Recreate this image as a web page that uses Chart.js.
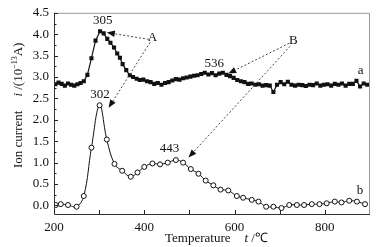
<!DOCTYPE html>
<html>
<head>
<meta charset="utf-8">
<script src="https://cdn.jsdelivr.net/npm/chart.js@4.4.1/dist/chart.umd.min.js"></script>
<style>
html, body { margin: 0; padding: 0; background: #fff; }
</style>
</head>
<body>
<canvas id="ionChart" width="386" height="247"></canvas>
<script>
// curve a (filled squares)
const tempA = [203, 210, 217, 224, 231, 238, 245, 252, 259, 266, 274, 283, 292, 302, 310, 318, 325, 333, 340, 346,
    352, 360, 368, 375, 383, 390, 398, 406, 414, 422, 430, 438, 446, 454, 462, 470, 478, 486, 494, 502,
    510, 518, 526, 534, 542, 550, 558, 566, 574, 582, 590, 598, 606, 614, 622, 630, 638, 646, 654, 662,
    670, 678, 686, 694, 702, 710, 718, 726, 734, 742, 750, 758, 766, 774, 782, 790, 798, 806, 814, 822,
    830, 838, 846, 854, 862, 870, 878, 886, 894];
const currentA = [2.83, 2.87, 2.84, 2.80, 2.85, 2.82, 2.80, 2.83, 2.86, 2.90, 3.05, 3.44, 3.85, 4.07, 4.02, 3.89, 3.80, 3.69, 3.55, 3.45,
    3.30, 3.16, 3.04, 3.00, 2.96, 2.93, 2.94, 2.90, 2.88, 2.84, 2.86, 2.82, 2.86, 2.88, 2.92, 2.95, 2.94, 2.97, 2.99, 3.01,
    3.03, 3.04, 3.07, 3.10, 3.06, 3.09, 3.04, 3.08, 3.10, 3.05, 3.02, 2.98, 2.93, 2.90, 2.88, 2.84, 2.85, 2.82, 2.83, 2.80,
    2.81, 2.80, 2.65, 2.82, 2.88, 2.83, 2.89, 2.82, 2.80, 2.82, 2.81, 2.79, 2.82, 2.81, 2.85, 2.80, 2.82, 2.83, 2.80, 2.84,
    2.82, 2.85, 2.80, 2.84, 2.84, 2.91, 2.78, 2.85, 2.82];

// curve b (open circles)
const tempB = [204, 215, 231, 250, 266, 283, 301, 317, 334, 351, 370, 385, 400, 418, 435, 452, 470, 486, 503, 520,
    536, 553, 569, 586, 605, 619, 638, 653, 670, 686, 704, 721, 738, 754, 771, 788, 804, 822, 837, 854,
    871, 889];
const currentB = [0.01, 0.03, 0.01, -0.03, 0.22, 1.35, 2.34, 1.54, 0.97, 0.81, 0.67, 0.77, 0.90, 0.98, 0.96, 1.00, 1.06, 1.00, 0.85, 0.74,
    0.58, 0.47, 0.37, 0.35, 0.22, 0.18, 0.13, 0.09, -0.03, -0.03, -0.06, 0.01, 0.01, 0.01, 0.03, 0.03, 0.05, 0.09, 0.07, 0.11,
    0.09, 0.03];

const xTicks = [200, 400, 600, 800];
const xMinorTicks = [300, 500, 700];
const yTicks = [0, 0.5, 1.0, 1.5, 2.0, 2.5, 3.0, 3.5, 4.0, 4.5];

// annotation texts and arrows, in data units
const noteLabels = [
    { text: '305', x: 308, y: 4.31 },
    { text: '302', x: 302, y: 2.60 },
    { text: '536', x: 555, y: 3.31 },
    { text: '443', x: 456, y: 1.32 },
    { text: 'A', x: 418, y: 3.91 },
    { text: 'B', x: 730, y: 3.84 },
    { text: 'a', x: 879, y: 3.15 },
    { text: 'b', x: 878, y: 0.34 }
];
const noteArrows = [
    { from: [410, 3.88], to: [317, 4.04] },
    { from: [413, 3.81], to: [321, 2.28] },
    { from: [721, 3.79], to: [586, 3.08] },
    { from: [723, 3.72], to: [498, 1.12] }
];

const FONT = '"Liberation Serif", "Times New Roman", serif';

function toPoints(xs, ys) {
    return xs.map((x, i) => ({ x: x, y: ys[i] }));
}

const decorPlugin = {
    id: 'decor',
    afterDraw(chart) {
        const ctx = chart.ctx;
        const area = chart.chartArea;
        const xs = chart.scales.x;
        const ys = chart.scales.y;
        ctx.save();

        // frame: top/right lighter than the axes
        ctx.lineWidth = 1;
        ctx.strokeStyle = '#999';
        ctx.beginPath();
        ctx.moveTo(area.left, area.top + 0.5);
        ctx.lineTo(area.right - 0.5, area.top + 0.5);
        ctx.lineTo(area.right - 0.5, area.bottom);
        ctx.stroke();
        ctx.strokeStyle = '#333';
        ctx.beginPath();
        ctx.moveTo(area.left + 0.5, area.top);
        ctx.lineTo(area.left + 0.5, area.bottom + 0.5);
        ctx.lineTo(area.right, area.bottom + 0.5);
        ctx.stroke();

        // inward ticks
        ctx.strokeStyle = '#222';
        ctx.beginPath();
        xTicks.concat(xMinorTicks).forEach(v => {
            const px = Math.round(xs.getPixelForValue(v)) + 0.5;
            ctx.moveTo(px, area.bottom);
            ctx.lineTo(px, area.bottom - 4);
        });
        for (let v = 0; v <= 4.5; v += 0.25) {
            const py = Math.round(ys.getPixelForValue(v)) + 0.5;
            const len = (Math.abs(v * 2 - Math.round(v * 2)) < 0.01) ? 4 : 2.5;
            ctx.moveTo(area.left, py);
            ctx.lineTo(area.left + len, py);
        }
        ctx.stroke();

        // dotted arrows
        ctx.strokeStyle = '#333';
        ctx.fillStyle = '#111';
        ctx.lineWidth = 0.9;
        noteArrows.forEach(a => {
            const x1 = xs.getPixelForValue(a.from[0]), y1 = ys.getPixelForValue(a.from[1]);
            const x2 = xs.getPixelForValue(a.to[0]), y2 = ys.getPixelForValue(a.to[1]);
            const ang = Math.atan2(y2 - y1, x2 - x1);
            const headLen = 8, headW = 3.2;
            ctx.setLineDash([2, 2]);
            ctx.beginPath();
            ctx.moveTo(x1, y1);
            ctx.lineTo(x2 - headLen * Math.cos(ang), y2 - headLen * Math.sin(ang));
            ctx.stroke();
            ctx.setLineDash([]);
            ctx.beginPath();
            ctx.moveTo(x2, y2);
            ctx.lineTo(x2 - headLen * Math.cos(ang) + headW * Math.sin(ang), y2 - headLen * Math.sin(ang) - headW * Math.cos(ang));
            ctx.lineTo(x2 - headLen * Math.cos(ang) - headW * Math.sin(ang), y2 - headLen * Math.sin(ang) + headW * Math.cos(ang));
            ctx.closePath();
            ctx.fill();
        });

        // annotation labels
        ctx.fillStyle = '#111';
        ctx.font = '13px ' + FONT;
        ctx.textAlign = 'center';
        ctx.textBaseline = 'middle';
        noteLabels.forEach(l => {
            ctx.fillText(l.text, xs.getPixelForValue(l.x), ys.getPixelForValue(l.y));
        });

        // x axis title
        ctx.textAlign = 'left';
        ctx.textBaseline = 'alphabetic';
        let tx = 165;
        const tyBase = 242;
        ctx.font = '13px ' + FONT;
        ctx.fillText('Temperature', tx, tyBase);
        tx += ctx.measureText('Temperature').width + 14;
        ctx.font = 'italic 13px ' + FONT;
        ctx.fillText('t', tx, tyBase);
        tx += ctx.measureText('t ').width;
        ctx.font = '13px ' + FONT;
        ctx.fillText('/\u2103', tx, tyBase);

        // y axis title (rotated)
        ctx.save();
        ctx.translate(22, 168);
        ctx.rotate(-Math.PI / 2);
        let ty = 0;
        ctx.font = '13px ' + FONT;
        ctx.fillText('Ion current', ty, 0);
        ty += ctx.measureText('Ion current').width + 14;
        ctx.font = 'italic 13px ' + FONT;
        ctx.fillText('i', ty, 0);
        ty += ctx.measureText('i ').width;
        ctx.font = '13px ' + FONT;
        ctx.fillText('/(10', ty, 0);
        ty += ctx.measureText('/(10').width;
        ctx.font = '8px ' + FONT;
        ctx.fillText('\u221213', ty, -5);
        ty += ctx.measureText('\u221213').width;
        ctx.font = '13px ' + FONT;
        ctx.fillText('A)', ty, 0);
        ctx.restore();

        ctx.restore();
    }
};

const ctx = document.getElementById('ionChart').getContext('2d');
const ionChart = new Chart(ctx, {
    type: 'line',
    data: {
        datasets: [{
            label: 'a',
            data: toPoints(tempA, currentA),
            borderColor: '#111',
            backgroundColor: '#111',
            borderWidth: 1.2,
            pointStyle: 'rect',
            pointRadius: 2.9,
            pointBorderWidth: 0,
            tension: 0
        }, {
            label: 'b',
            data: toPoints(tempB, currentB),
            borderColor: '#111',
            backgroundColor: '#fff',
            borderWidth: 1,
            pointStyle: 'circle',
            pointRadius: 2.5,
            pointBorderWidth: 1,
            pointBackgroundColor: '#fff',
            pointBorderColor: '#111',
            tension: 0.4
        }]
    },
    options: {
        responsive: false,
        animation: false,
        layout: { padding: { top: 9, right: 16, left: 0, bottom: 0 } },
        plugins: {
            legend: { display: false },
            tooltip: { enabled: false }
        },
        scales: {
            x: {
                type: 'linear',
                min: 200,
                max: 900,
                grid: { display: false, drawTicks: false },
                border: { display: false },
                afterBuildTicks: scale => { scale.ticks = xTicks.map(v => ({ value: v })); },
                afterFit: scale => { scale.height = 33; },
                ticks: {
                    padding: 6,
                    color: '#111',
                    font: { family: FONT, size: 13 },
                    maxRotation: 0
                }
            },
            y: {
                min: -0.2,
                max: 4.5,
                grid: { display: false, drawTicks: false },
                border: { display: false },
                afterBuildTicks: scale => { scale.ticks = yTicks.map(v => ({ value: v })); },
                afterFit: scale => { scale.width = 54; },
                ticks: {
                    padding: 5,
                    color: '#111',
                    font: { family: FONT, size: 13 },
                    callback: v => v.toFixed(1)
                }
            }
        }
    },
    plugins: [decorPlugin]
});
</script>
</body>
</html>
